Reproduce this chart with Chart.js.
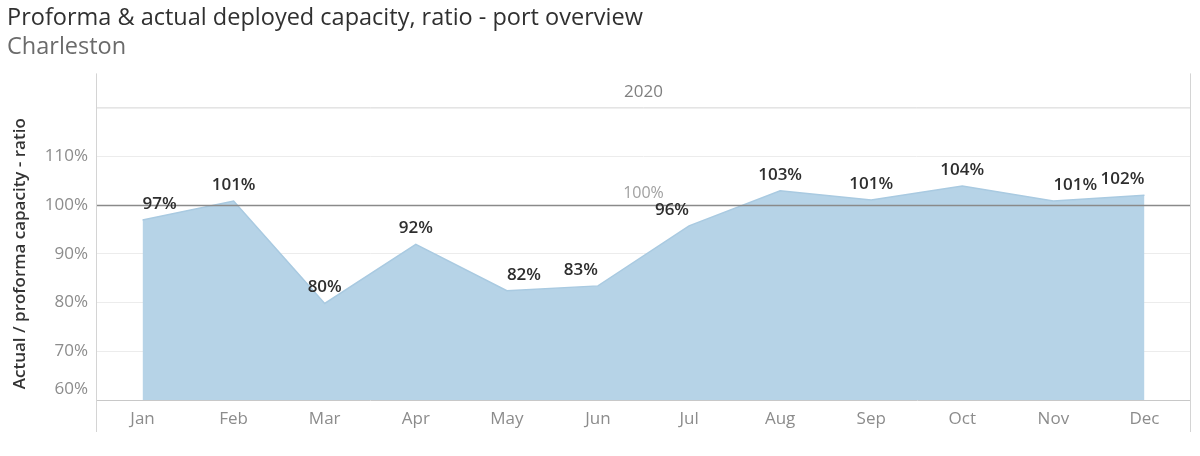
<!DOCTYPE html>
<html>
<head>
<meta charset="utf-8">
<script src="https://cdn.jsdelivr.net/npm/chart.js@4.4.1/dist/chart.umd.min.js"></script>
<style>
  html, body { margin: 0; padding: 0; background: #fff; }
  #wrap { width: 1200px; height: 456px; }
</style>
</head>
<body>
<div id="wrap"><canvas id="chart"></canvas></div>
<script>
// values
var months = ['Jan', 'Feb', 'Mar', 'Apr', 'May', 'Jun', 'Jul', 'Aug', 'Sep', 'Oct', 'Nov', 'Dec'];
var ratio = [96.9, 100.8, 79.8, 91.9, 82.4, 83.4, 95.7, 102.9, 101.0, 103.9, 100.8, 102.0];
var yearLabel = '2020';
var referenceValue = 100;
var yMin = 60;
var yMax = 120;
var yStep = 10;

// where each value label sits next to its point
var labelAlign = ['left', 'center', 'center', 'center', 'left', 'right', 'right', 'center', 'center', 'center', 'left', 'right'];

var FONT = '"Open Sans", "Noto Sans", sans-serif';

// border lines round the pane, the year header and the 100% reference line
var framePlugin = {
  id: 'frame',
  beforeDatasetsDraw: function (chart) {
    var ctx = chart.ctx, a = chart.chartArea;
    ctx.save();
    ctx.strokeStyle = '#d4d4d4';
    ctx.lineWidth = 1;
    ctx.beginPath();
    ctx.moveTo(a.left - 0.5, a.top - 34);
    ctx.lineTo(a.left - 0.5, a.bottom + 32);
    ctx.moveTo(a.right + 0.5, a.top - 34);
    ctx.lineTo(a.right + 0.5, a.bottom + 32);
    ctx.moveTo(a.left, a.top + 0.5);
    ctx.lineTo(a.right, a.top + 0.5);
    ctx.stroke();

    ctx.fillStyle = '#808080';
    ctx.font = '17px ' + FONT;
    ctx.textAlign = 'center';
    ctx.textBaseline = 'middle';
    ctx.fillText(yearLabel, (a.left + a.right) / 2, a.top - 15);

    // 60% tick label is pulled up inside the pane
    var y = chart.scales.y;
    ctx.textAlign = 'right';
    ctx.fillStyle = '#8c8c8c';
    ctx.font = '17px ' + FONT;
    ctx.fillText(yMin + '%', a.left - 9, y.getPixelForValue(yMin) - 11);
    ctx.restore();
  },
  afterDatasetsDraw: function (chart) {
    var ctx = chart.ctx, a = chart.chartArea;
    var py = Math.round(chart.scales.y.getPixelForValue(referenceValue)) + 0.5;
    ctx.save();
    ctx.strokeStyle = '#8a8a8a';
    ctx.lineWidth = 1.5;
    ctx.beginPath();
    ctx.moveTo(a.left, py);
    ctx.lineTo(a.right, py);
    ctx.stroke();

    ctx.fillStyle = '#a0a0a0';
    ctx.font = '16px ' + FONT;
    ctx.textAlign = 'center';
    ctx.textBaseline = 'middle';
    ctx.fillText(referenceValue + '%', (a.left + a.right) / 2, py - 12);

    // value labels
    var meta = chart.getDatasetMeta(0);
    ctx.fillStyle = '#2e2e2e';
    ctx.font = '600 17px ' + FONT;
    meta.data.forEach(function (pt, i) {
      ctx.textAlign = labelAlign[i];
      ctx.fillText(Math.round(ratio[i]) + '%', pt.x, pt.y - 16);
    });
    ctx.restore();
  }
};

new Chart(document.getElementById('chart'), {
  type: 'line',
  data: {
    labels: months,
    datasets: [{
      data: ratio,
      fill: 'start',
      backgroundColor: '#b6d3e7',
      borderColor: '#a9cae1',
      borderWidth: 1.5,
      pointRadius: 0,
      tension: 0
    }]
  },
  options: {
    responsive: true,
    maintainAspectRatio: false,
    animation: false,
    layout: { padding: { left: 7, right: 10, top: 0, bottom: 0 } },
    plugins: {
      legend: { display: false },
      tooltip: { enabled: false },
      title: {
        display: true,
        text: 'Proforma & actual deployed capacity, ratio - port overview',
        align: 'start',
        color: '#303030',
        font: { family: FONT, size: 23.5, weight: '500' },
        padding: { top: 4, bottom: 1 }
      },
      subtitle: {
        display: true,
        text: 'Charleston',
        align: 'start',
        color: '#6b6b6b',
        font: { family: FONT, size: 23.5, weight: 'normal' },
        padding: { top: 0, bottom: 46 }
      }
    },
    scales: {
      x: {
        offset: true,
        grid: { display: false },
        border: { display: true, color: '#c8c8c8' },
        ticks: { color: '#8c8c8c', font: { family: FONT, size: 17 }, padding: 1 },
        afterFit: function (s) { s.height = 56; }
      },
      y: {
        min: yMin,
        max: yMax,
        border: { display: false },
        grid: {
          drawTicks: false,
          color: function (c) {
            var v = c.tick.value;
            return (v === yMin || v === yMax || v === referenceValue) ? 'rgba(0,0,0,0)' : '#ececec';
          }
        },
        ticks: {
          stepSize: yStep,
          padding: 9,
          color: '#8c8c8c',
          font: { family: FONT, size: 17 },
          callback: function (v) { return (v === yMin || v === yMax) ? '' : v + '%'; }
        },
        title: {
          display: true,
          text: 'Actual / proforma capacity - ratio',
          color: '#333333',
          font: { family: FONT, size: 17, weight: '600' },
          padding: { top: 3, bottom: 0 }
        },
        afterFit: function (s) { s.width = 90; }
      }
    }
  },
  plugins: [framePlugin]
});
</script>
</body>
</html>
